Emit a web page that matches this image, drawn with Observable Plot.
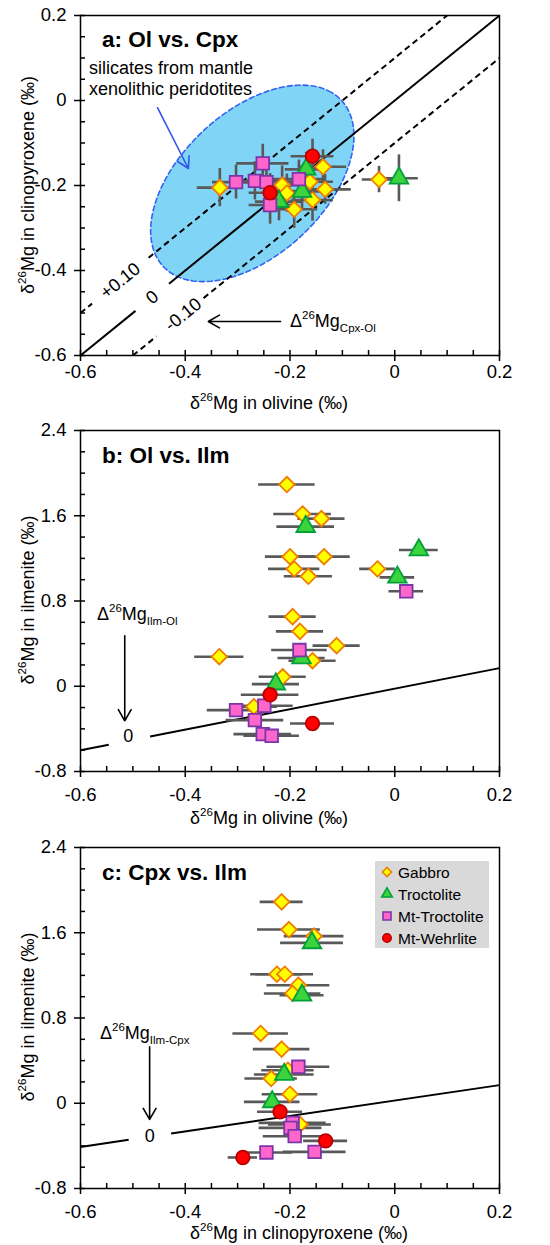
<!DOCTYPE html>
<html><head><meta charset="utf-8">
<script src="https://cdn.jsdelivr.net/npm/d3@7"></script>
<script src="https://cdn.jsdelivr.net/npm/@observablehq/plot@0.6"></script>
<style>
body{margin:0;background:#fff;}
#wrap{position:relative;width:550px;}
#wrap svg{display:block;}
</style></head><body><div id="wrap"></div>
<script>
const FONT = "'Liberation Sans', Arial, sans-serif";

// ---------- shared ----------
const types = ["Gabbro", "Troctolite", "Mt-Troctolite", "Mt-Wehrlite"];
const xMajor = [-0.6, -0.4, -0.2, 0, 0.2];
const xMinor = [-0.55, -0.5, -0.45, -0.35, -0.3, -0.25, -0.15, -0.1, -0.05, 0.05, 0.1, 0.15];
const aYMajor = [-0.6, -0.4, -0.2, 0, 0.2];
const aYMinor = [-0.55, -0.5, -0.45, -0.35, -0.3, -0.25, -0.15, -0.1, -0.05, 0.05, 0.1, 0.15];
const bcYMajor = [-0.8, 0, 0.8, 1.6, 2.4];
const bcYMinor = [-0.6, -0.4, -0.2, 0.2, 0.4, 0.6, 1.0, 1.2, 1.4, 1.8, 2.0, 2.2];

// ---------- panel a: olivine vs clinopyroxene ----------
const aType = ["Gabbro","Gabbro","Gabbro","Gabbro","Gabbro","Gabbro","Gabbro","Gabbro","Gabbro",
  "Troctolite","Troctolite","Troctolite","Troctolite",
  "Mt-Troctolite","Mt-Troctolite","Mt-Troctolite","Mt-Troctolite","Mt-Troctolite","Mt-Troctolite",
  "Mt-Wehrlite","Mt-Wehrlite"];
const aOl    = [-0.334,-0.215,-0.206,-0.192,-0.157,-0.137,-0.133,-0.162,-0.030, -0.169,-0.177,-0.221,0.008, -0.252,-0.303,-0.267,-0.245,-0.183,-0.238, -0.157,-0.238];
const aOlErr = [0.043,0.045,0.045,0.045,0.040,0.045,0.050,0.045,0.032, 0.040,0.050,0.045,0.037, 0.050,0.045,0.045,0.050,0.050,0.040, 0.041,0.040];
const aCpx   = [-0.205,-0.199,-0.218,-0.256,-0.234,-0.156,-0.209,-0.191,-0.186, -0.162,-0.214,-0.238,-0.183, -0.148,-0.192,-0.189,-0.192,-0.185,-0.246, -0.131,-0.217];
const aCpxErr= [0.045,0.045,0.045,0.045,0.050,0.040,0.035,0.040,0.031, 0.040,0.045,0.045,0.055, 0.045,0.040,0.045,0.040,0.045,0.045, 0.040,0.045];

// mantle peridotite field (ellipse: centre, semi-axes, tilt in degrees)
const fieldCenter = [-0.272, -0.195];
const fieldAxes = [0.262, 0.150];
const fieldTilt = 55;

// reference lines  Δ26Mg(Cpx-Ol) = +0.10, 0, -0.10
const diagOffsets = [0.1, 0, -0.1];
const diagLabels = ["+0.10", "0", "-0.10"];
const diagLabelX = [-0.524, -0.463, -0.404];
const diagGaps = [[-0.578, -0.470], [-0.495, -0.431], [-0.455, -0.365]];
const diagDash = ["6,4", null, "6,4"];

// ---------- panel b: olivine vs ilmenite ----------
const bType = ["Gabbro","Gabbro","Gabbro","Gabbro","Gabbro","Gabbro","Gabbro","Gabbro","Gabbro","Gabbro","Gabbro","Gabbro","Gabbro","Gabbro","Gabbro",
  "Troctolite","Troctolite","Troctolite","Troctolite","Troctolite",
  "Mt-Troctolite","Mt-Troctolite","Mt-Troctolite","Mt-Troctolite","Mt-Troctolite","Mt-Troctolite","Mt-Troctolite",
  "Mt-Wehrlite","Mt-Wehrlite"];
const bOl    = [-0.206,-0.176,-0.140,-0.200,-0.135,-0.192,-0.165,-0.033,-0.195,-0.181,-0.111,-0.335,-0.157,-0.214,-0.269,
  -0.170,0.046,0.005,-0.178,-0.227,
  0.022,-0.182,-0.303,-0.249,-0.267,-0.252,-0.235,
  -0.238,-0.157];
const bOlErr = [0.054,0.055,0.045,0.047,0.050,0.049,0.046,0.034,0.045,0.045,0.045,0.047,0.045,0.045,0.045,
  0.055,0.037,0.033,0.045,0.045,
  0.033,0.053,0.055,0.055,0.055,0.055,0.053,
  0.055,0.042];
const bIlm   = [1.893,1.617,1.573,1.216,1.216,1.101,1.032,1.101,0.653,0.515,0.381,0.277,0.240,0.089,-0.192,
  1.498,1.279,1.022,0.265,0.020,
  0.891,0.340,-0.224,-0.183,-0.318,-0.449,-0.465,
  -0.080,-0.349];
const bLineX = [-0.6, 0.2];
const bLineY = [-0.60, 0.17];
const bGap = [-0.546, -0.467];
const bZeroLabel = [-0.509, -0.465];

// ---------- panel c: clinopyroxene vs ilmenite ----------
const cType = ["Gabbro","Gabbro","Gabbro","Gabbro","Gabbro","Gabbro","Gabbro","Gabbro","Gabbro","Gabbro","Gabbro","Gabbro","Gabbro",
  "Troctolite","Troctolite","Troctolite","Troctolite",
  "Mt-Troctolite","Mt-Troctolite","Mt-Troctolite","Mt-Troctolite","Mt-Troctolite","Mt-Troctolite",
  "Mt-Wehrlite","Mt-Wehrlite","Mt-Wehrlite"];
const cCpx   = [-0.216,-0.202,-0.154,-0.225,-0.210,-0.184,-0.195,-0.256,-0.216,-0.204,-0.236,-0.200,-0.181,
  -0.158,-0.177,-0.211,-0.234,
  -0.184,-0.195,-0.199,-0.191,-0.245,-0.153,
  -0.219,-0.132,-0.290];
const cCpxErr= [0.041,0.060,0.057,0.050,0.055,0.060,0.054,0.053,0.054,0.050,0.050,0.053,0.060,
  0.060,0.042,0.057,0.053,
  0.060,0.064,0.060,0.060,0.050,0.060,
  0.043,0.042,0.028];
const cIlm   = [1.890,1.630,1.568,1.211,1.211,1.108,1.030,0.655,0.508,0.310,0.232,0.085,-0.199,
  1.505,1.014,0.270,0.013,
  0.342,-0.184,-0.231,-0.309,-0.462,-0.456,
  -0.080,-0.353,-0.509];
const cLineX = [-0.6, 0.2];
const cLineY = [-0.41, 0.17];
const cGap = [-0.508, -0.427];
const cZeroLabel = [-0.468, -0.309];

// ---------- styles ----------
const sty = {
  "Gabbro":        {symbol: "diamond2", r: 7.0, fill: "#FFFF00", stroke: "#F07C00"},
  "Troctolite":    {symbol: "triangle", r: 6.9, fill: "#3CD43C", stroke: "#00A03A"},
  "Mt-Troctolite": {symbol: "square",   r: 7.1, fill: "#FF66CC", stroke: "#7A35A8"},
  "Mt-Wehrlite":   {symbol: "circle",   r: 6.8, fill: "#FF0000", stroke: "#B80000"}
};
const legSym = {"Gabbro": [d3.symbolDiamond2, 52], "Troctolite": [d3.symbolTriangle, 48],
  "Mt-Troctolite": [d3.symbolSquare, 64], "Mt-Wehrlite": [d3.symbolCircle, 56]};
const ERR = "#595959";
const fmt = d => Math.abs(d) < 1e-9 ? "0" : d.toFixed(1);
const TICK_FS = 18.5, TITLE_FS = 18, NOTE_FS = 18;

function rich(svg, x, y, parts, {size = 17, anchor = "start", rotate = 0, weight = "normal"} = {}) {
  const t = svg.append("text").attr("x", x).attr("y", y).attr("text-anchor", anchor)
    .attr("font-size", size).attr("font-weight", weight).attr("fill", "black")
    .attr("font-family", FONT);
  if (rotate) t.attr("transform", `rotate(${rotate},${x},${y})`);
  let shift = 0;
  for (const p of parts) {
    const s = p.sup ? -0.42 * size : p.sub ? 0.25 * size : 0;
    const ts = t.append("tspan").text(p.t).attr("dy", s - shift);
    if (p.sup || p.sub) ts.attr("font-size", size * 0.64);
    shift = s;
  }
  return t;
}

function panel({rows, yDomain, yMajor, yMinor, height, mt, mb, under = [], yErr = false, xPad = 3}) {
  const W = 550, ml = 80, mr = 51;
  const ph = height - mt - mb, pw = W - ml - mr;
  const marks = [
    ...under,
    Plot.ruleY(rows, {y: "y", x1: d => d.x - d.ex, x2: d => d.x + d.ex, stroke: ERR, strokeWidth: 2.6}),
    ...(yErr ? [Plot.ruleX(rows, {x: "x", y1: d => d.y - d.ey, y2: d => d.y + d.ey, stroke: ERR, strokeWidth: 2.6})] : []),
    ...types.map(t => Plot.dot(rows.filter(d => d.type === t), {x: "x", y: "y", ...sty[t], strokeWidth: 1.8})),
    Plot.frame({stroke: "black", strokeWidth: 1.5}),
    Plot.axisX(xMajor, {tickSize: 6, tickPadding: xPad, tickFormat: fmt, fontSize: TICK_FS, strokeWidth: 1.5, label: null}),
    Plot.tickX(xMajor.concat(xMinor), {x: d => d, insetTop: ph - 5, stroke: "black", strokeWidth: 1.5}),
    Plot.axisY(yMajor, {tickSize: 6, tickPadding: 8, tickFormat: fmt, fontSize: TICK_FS, strokeWidth: 1.5, label: null}),
    Plot.tickY(yMajor.concat(yMinor), {y: d => d, insetRight: pw - 5, stroke: "black", strokeWidth: 1.5})
  ];
  return Plot.plot({
    width: W, height, marginTop: mt, marginBottom: mb, marginLeft: ml, marginRight: mr,
    x: {domain: [-0.6, 0.2]}, y: {domain: yDomain},
    style: {fontFamily: FONT, fontSize: TICK_FS + "px", color: "black", background: "white"},
    marks
  });
}

const wrap = document.getElementById("wrap");

// ===== Panel a =====
{
  const rows = aType.map((t, i) => ({type: t, x: aOl[i], ex: aOlErr[i], y: aCpx[i], ey: aCpxErr[i]}));
  const th = fieldTilt * Math.PI / 180;
  const field = d3.range(0, 360, 3).map(deg => {
    const t = deg * Math.PI / 180;
    const u = fieldAxes[0] * Math.cos(t), v = fieldAxes[1] * Math.sin(t);
    return {x: fieldCenter[0] + u * Math.cos(th) - v * Math.sin(th), y: fieldCenter[1] + u * Math.sin(th) + v * Math.cos(th)};
  });
  const segs = [];
  diagOffsets.forEach((o, i) => {
    const lo = Math.max(-0.6, -0.6 - o), hi = Math.min(0.2, 0.2 - o);
    [[lo, diagGaps[i][0]], [diagGaps[i][1], hi]].forEach(([a, b]) =>
      segs.push({x1: a, y1: a + o, x2: b, y2: b + o, dash: diagDash[i]}));
  });
  const labs = diagLabels.map((l, i) => ({label: l, x: diagLabelX[i], y: diagLabelX[i] + diagOffsets[i]}));
  const chart = panel({
    rows, yDomain: [-0.6, 0.2], yMajor: aYMajor, yMinor: aYMinor, height: 415, mt: 15, mb: 60, yErr: true,
    under: [
      Plot.line(field, {x: "x", y: "y", curve: "linear-closed", fill: "#80D4F5", stroke: "#3463F2", strokeWidth: 1.6, strokeDasharray: "5,3"}),
      Plot.link(segs.filter(s => s.dash), {x1: "x1", y1: "y1", x2: "x2", y2: "y2", stroke: "black", strokeWidth: 2, strokeDasharray: "6,4"}),
      Plot.link(segs.filter(s => !s.dash), {x1: "x1", y1: "y1", x2: "x2", y2: "y2", stroke: "black", strokeWidth: 2}),
      Plot.text(labs, {x: "x", y: "y", text: "label", rotate: -39, fontSize: NOTE_FS, fill: "black"}),
      Plot.arrow([{x1: -0.453, y1: -0.017, x2: -0.394, y2: -0.160}], {x1: "x1", y1: "y1", x2: "x2", y2: "y2", stroke: "#3355EE", strokeWidth: 1.6, headLength: 12}),
      Plot.arrow([{x1: -0.218, y1: -0.52, x2: -0.356, y2: -0.52}], {x1: "x1", y1: "y1", x2: "x2", y2: "y2", stroke: "black", strokeWidth: 1.6, headLength: 12})
    ]
  });
  wrap.appendChild(chart);
  const s = d3.select(chart);
  rich(s, 102, 47, [{t: "a: Ol vs. Cpx"}], {size: 22.5, weight: "bold"});
  rich(s, 89, 74, [{t: "silicates from mantle"}], {size: NOTE_FS});
  rich(s, 89, 95, [{t: "xenolithic peridotites"}], {size: NOTE_FS});
  rich(s, 290, 327, [{t: "Δ"}, {t: "26", sup: true}, {t: "Mg"}, {t: "Cpx-Ol", sub: true}], {size: NOTE_FS});
  rich(s, 269, 409, [{t: "δ"}, {t: "26", sup: true}, {t: "Mg in olivine (‰)"}], {size: TITLE_FS, anchor: "middle"});
  rich(s, 34, 185, [{t: "δ"}, {t: "26", sup: true}, {t: "Mg in clinopyroxene (‰)"}], {size: TITLE_FS, anchor: "middle", rotate: -90});
}

function ilmPanel({rows, lineX, lineY, gap, zero, mt, mb, title, titleY, deltaSub, deltaX, deltaY, arrow, xTitle, xTitleX, xTitleY, legend}) {
  const slope = (lineY[1] - lineY[0]) / (lineX[1] - lineX[0]);
  const yAt = x => lineY[0] + slope * (x - lineX[0]);
  const segs = [[lineX[0], gap[0]], [gap[1], lineX[1]]].map(([a, b]) => ({x1: a, y1: yAt(a), x2: b, y2: yAt(b)}));
  const chart = panel({
    rows, yDomain: [-0.8, 2.4], yMajor: bcYMajor, yMinor: bcYMinor, height: 415, mt, mb, xPad: 10,
    under: [
      Plot.link(segs, {x1: "x1", y1: "y1", x2: "x2", y2: "y2", stroke: "black", strokeWidth: 2}),
      Plot.text([{x: zero[0], y: zero[1]}], {x: "x", y: "y", text: () => "0", fontSize: NOTE_FS, fill: "black"}),
      Plot.arrow([arrow], {x1: "x1", y1: "y1", x2: "x2", y2: "y2", stroke: "black", strokeWidth: 1.6, headLength: 12})
    ]
  });
  wrap.appendChild(chart);
  const s = d3.select(chart);
  rich(s, 102, titleY, [{t: title}], {size: 22.5, weight: "bold"});
  rich(s, deltaX, deltaY, [{t: "Δ"}, {t: "26", sup: true}, {t: "Mg"}, {t: deltaSub, sub: true}], {size: NOTE_FS});
  rich(s, xTitleX, xTitleY, [{t: "δ"}, {t: "26", sup: true}, {t: xTitle}], {size: TITLE_FS, anchor: "middle"});
  rich(s, 34, mt + 170, [{t: "δ"}, {t: "26", sup: true}, {t: "Mg in ilmenite (‰)"}], {size: TITLE_FS, anchor: "middle", rotate: -90});
  if (legend) {
    const g = s.append("g");
    g.append("rect").attr("x", 375).attr("y", 31).attr("width", 114).attr("height", 87).attr("fill", "#D9D9D9");
    types.forEach((t, i) => {
      const cy = 42 + i * 22;
      g.append("path").attr("d", d3.symbol(legSym[t][0], legSym[t][1])())
        .attr("transform", `translate(387,${cy})`)
        .attr("fill", sty[t].fill).attr("stroke", sty[t].stroke).attr("stroke-width", 1.6);
      rich(g, 398, cy + 5.5, [{t}], {size: 15.5});
    });
  }
}

// ===== Panel b =====
ilmPanel({
  rows: bType.map((t, i) => ({type: t, x: bOl[i], ex: bOlErr[i], y: bIlm[i]})),
  lineX: bLineX, lineY: bLineY, gap: bGap, zero: bZeroLabel, mt: 15, mb: 59,
  title: "b: Ol vs. Ilm", titleY: 48, deltaSub: "Ilm-Ol", deltaX: 97, deltaY: 205,
  arrow: {x1: -0.5155, y1: 0.474, x2: -0.5155, y2: -0.324},
  xTitle: "Mg in olivine (‰)", xTitleX: 269, xTitleY: 409
});

// ===== Panel c =====
ilmPanel({
  rows: cType.map((t, i) => ({type: t, x: cCpx[i], ex: cCpxErr[i], y: cIlm[i]})),
  lineX: cLineX, lineY: cLineY, gap: cGap, zero: cZeroLabel, mt: 17, mb: 57,
  title: "c: Cpx vs. Ilm", titleY: 50, deltaSub: "Ilm-Cpx", deltaX: 100, deltaY: 209,
  arrow: {x1: -0.468, y1: 0.529, x2: -0.468, y2: -0.152},
  xTitle: "Mg in clinopyroxene (‰)", xTitleX: 299, xTitleY: 409, legend: true
});
</script></body></html>
